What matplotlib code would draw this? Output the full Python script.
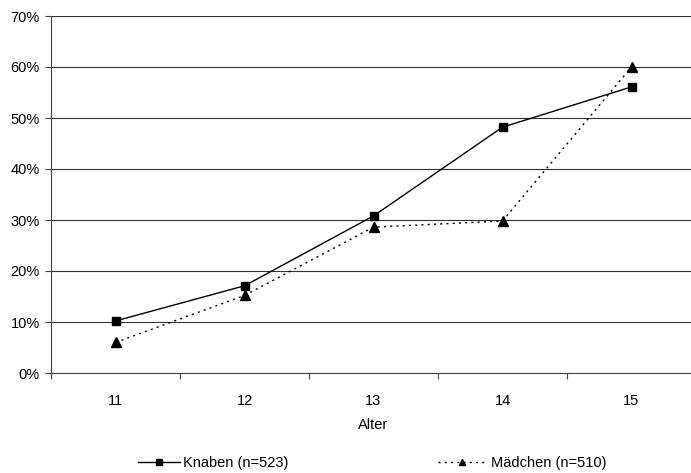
import numpy as np
import matplotlib.pyplot as plt
from matplotlib.ticker import PercentFormatter, FixedLocator

plt.rcParams['font.family'] = ['Liberation Sans', 'DejaVu Sans']

alter = [11, 12, 13, 14, 15]
knaben = [10.2, 17.1, 30.8, 48.2, 56.1]
maedchen = [6.0, 15.2, 28.6, 29.8, 60.0]

fs = 10.5

fig = plt.figure(figsize=(6.91, 4.73), dpi=100)
ax = fig.add_axes([51/691, 100/473, 645/691, 357/473])

l1, = ax.plot(alter, knaben, color='black', lw=1, marker='s', ms=6, label='Knaben (n=523)')
l2, = ax.plot(alter, maedchen, color='black', lw=1, ls=(0, (1.5, 3)), marker='^', ms=6.5,
              label='Mädchen (n=510)')

ax.set_xlim(10.5, 15.5)
ax.set_ylim(0, 70)
ax.set_yticks(np.arange(0, 71, 10))
ax.yaxis.set_major_formatter(PercentFormatter(decimals=0))
ax.set_xticks(alter)
ax.xaxis.set_minor_locator(FixedLocator(np.arange(10.5, 15.6, 1)))
ax.tick_params(axis='x', which='major', length=0, pad=15, labelsize=fs)
ax.tick_params(axis='x', which='minor', length=4, width=0.8, color='#444')
ax.tick_params(axis='y', length=4, width=0.8, color='#444', labelsize=fs, pad=4)
ax.grid(axis='y', color='#333', lw=0.8)
ax.set_axisbelow(True)
for s in ['top', 'right']:
    ax.spines[s].set_visible(False)
for s in ['left', 'bottom']:
    ax.spines[s].set_color('#444')
    ax.spines[s].set_linewidth(0.8)

ax.set_xlabel('Alter', fontsize=fs, labelpad=7)

leg1 = fig.legend(handles=[l1], loc='center left', bbox_to_anchor=(125/691, 0.021),
                  frameon=False, fontsize=fs, handlelength=2.9, handletextpad=0.15,
                  markerscale=0.75)
leg2 = fig.legend(handles=[l2], loc='center left', bbox_to_anchor=(425/691, 0.021),
                  frameon=False, fontsize=fs, handlelength=3.3, handletextpad=0.3,
                  markerscale=0.75)

fig.savefig('out.png', dpi=100)
